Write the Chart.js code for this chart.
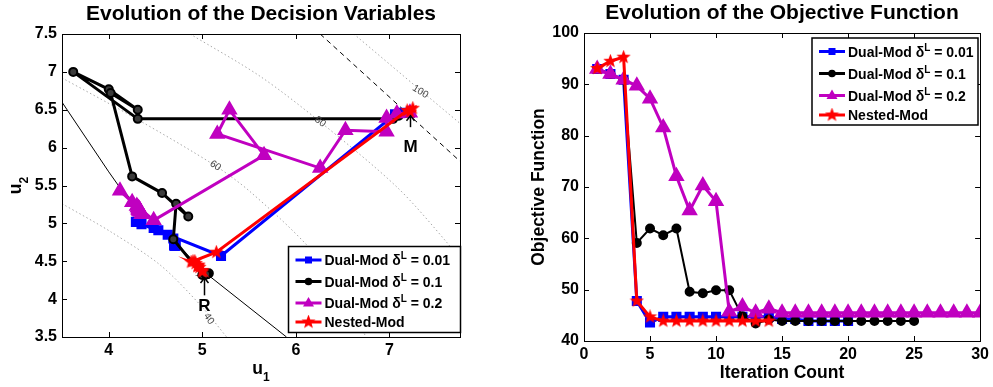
<!DOCTYPE html>
<html>
<head>
<meta charset="utf-8">
<script src="https://cdn.jsdelivr.net/npm/chart.js@4.4.1/dist/chart.umd.min.js"></script>
<style>
  html, body { margin: 0; padding: 0; background: #fff; }
  body { width: 993px; height: 387px; position: relative; overflow: hidden; }
  canvas { position: absolute; top: 0; }
  #chartU { left: 0; }
  #chartObj { left: 480px; }
</style>
</head>
<body>
<canvas id="chartU" width="470" height="387"></canvas>
<canvas id="chartObj" width="513" height="387"></canvas>
<script>
const seriesNames = ['Dual-Mod δ^L = 0.01', 'Dual-Mod δ^L = 0.1', 'Dual-Mod δ^L = 0.2', 'Nested-Mod'];
const seriesColors = ['#0000ff', '#000000', '#c000c0', '#ff0000'];
const seriesMarkers = ['rect', 'circle', 'triangle', 'star'];

// left panel: path of the decision variables (u1, u2)
const blueU1 = [7.22, 7.12, 7.06, 5.20, 4.29, 4.35, 4.48, 4.53, 4.63, 4.69, 4.71, 4.71, 4.70, 4.71, 4.71, 4.70, 4.71, 4.71, 4.70, 4.71];
const blueU2 = [6.46, 6.46, 6.44, 4.57, 5.02, 4.99, 4.94, 4.91, 4.85, 4.80, 4.72, 4.71, 4.72, 4.71, 4.72, 4.71, 4.71, 4.72, 4.71, 4.71];
const blackU1 = [7.22, 7.10, 7.04, 4.31, 3.62, 4.00, 4.31, 4.02, 4.25, 4.57, 4.85, 4.72, 4.69, 5.00, 5.07, 5.04, 5.05, 5.04, 5.04, 5.05, 5.04, 5.04, 5.05, 5.04, 5.04];
const blackU2 = [6.46, 6.42, 6.38, 6.38, 7.00, 6.77, 6.50, 6.72, 5.62, 5.40, 5.09, 5.26, 4.79, 4.32, 4.34, 4.33, 4.33, 4.33, 4.34, 4.33, 4.33, 4.33, 4.33, 4.33, 4.33];
const magentaU1 = [7.22, 7.08, 6.97, 6.97, 6.53, 6.26, 5.16, 5.29, 5.66, 4.48, 4.12, 4.25, 4.30, 4.33, 4.35, 4.32, 4.33, 4.31, 4.33, 4.34, 4.32, 4.33, 4.33, 4.32, 4.33, 4.33, 4.32, 4.33, 4.33, 4.33];
const magentaU2 = [6.46, 6.45, 6.39, 6.21, 6.23, 5.73, 6.18, 6.50, 5.90, 5.04, 5.43, 5.28, 5.23, 5.18, 5.12, 5.20, 5.17, 5.21, 5.17, 5.15, 5.19, 5.17, 5.18, 5.18, 5.17, 5.17, 5.18, 5.17, 5.17, 5.17];
const redU1 = [7.22, 7.25, 7.19, 5.15, 4.90, 4.95, 4.88, 4.93, 4.97, 4.92, 4.96, 5.00, 4.95, 5.00];
const redU2 = [6.47, 6.52, 6.49, 4.62, 4.50, 4.44, 4.49, 4.47, 4.42, 4.50, 4.45, 4.38, 4.43, 4.36];

// objective contours (dotted), constraint (solid) and bound (dashed)
const c40U1 = [3.5, 4.02, 4.55, 4.98, 5.26];
const c40U2 = [5.26, 4.89, 4.45, 3.92, 3.5];
const c60U1 = [3.5, 4.31, 5.14, 5.51, 6.12, 6.5, 6.75];
const c60U2 = [6.92, 6.37, 5.76, 5.42, 4.71, 4.1, 3.5];
const c80U1 = [4.87, 5.62, 6.26, 7.08, 7.62, 7.755];
const c80U2 = [7.5, 6.94, 6.34, 5.48, 4.74, 4.5];
const c100U1 = [6.62, 7.33, 7.755];
const c100U2 = [7.5, 6.76, 6.32];
const contourLabels = ['40', '60', '80', '100'];
const contourLabelU1 = [5.07, 5.14, 6.26, 7.33];
const contourLabelU2 = [3.74, 5.76, 6.34, 6.74];
const contourLabelAngle = [55, 34, 38, 32];
const constraintU1 = [3.5, 4.0, 4.12, 4.5, 5.05, 5.9];
const constraintU2 = [6.6, 5.68, 5.47, 5.0, 4.33, 3.5];
const boundU1 = [6.26, 7.755];
const boundU2 = [7.5, 5.82];
const leftXTicks = [4, 5, 6, 7];
const leftYTicks = [3.5, 4, 4.5, 5, 5.5, 6, 6.5, 7, 7.5];

// right panel: objective function per iteration
const iterations = [1, 2, 3, 4, 5, 6, 7, 8, 9, 10, 11, 12, 13, 14, 15, 16, 17, 18, 19, 20, 21, 22, 23, 24, 25, 26, 27, 28, 29, 30];
const blueObj = [93.0, 92.0, 90.9, 47.8, 43.6, 44.7, 44.7, 44.7, 44.7, 44.7, 44.7, 44.7, 44.7, 44.7, 44.3, 44.3, 43.9, 43.9, 43.9, 43.9];
const blackObj = [93.0, 92.0, 90.9, 59.1, 61.9, 60.6, 61.9, 49.6, 49.3, 49.9, 49.9, 44.8, 43.4, 44.2, 43.9, 43.9, 43.9, 43.9, 43.9, 43.9, 43.9, 43.9, 43.9, 43.9, 43.9];
const magentaObj = [93.0, 92.0, 90.9, 89.7, 87.2, 81.6, 72.1, 65.4, 70.3, 67.2, 45.7, 46.7, 45.5, 46.3, 45.5, 45.5, 45.5, 45.5, 45.5, 45.5, 45.5, 45.5, 45.5, 45.5, 45.5, 45.5, 45.5, 45.5, 45.5, 45.5];
const redObj = [93.1, 94.5, 95.3, 47.8, 44.7, 43.9, 43.9, 43.9, 43.9, 43.9, 43.9, 43.9, 43.9, 43.9];
const rightXTicks = [0, 5, 10, 15, 20, 25, 30];
const rightYTicks = [40, 50, 60, 70, 80, 90, 100];

const FONT = '"Liberation Sans", Arial, Helvetica, sans-serif';

function pts(xs, ys) {
    return xs.map((v, i) => ({ x: v, y: ys[i] }));
}

function starImage(size, color) {
    const c = document.createElement('canvas');
    c.width = c.height = size;
    const g = c.getContext('2d');
    const r = size / 2, ri = r * 0.42;
    g.beginPath();
    for (let i = 0; i < 10; i++) {
        const a = -Math.PI / 2 + i * Math.PI / 5;
        const rr = i % 2 ? ri : r;
        g.lineTo(r + rr * Math.cos(a), r + rr * Math.sin(a));
    }
    g.closePath();
    g.fillStyle = color;
    g.fill();
    return c;
}
const star = starImage(15, '#ff0000');

function drawMarker(ctx, style, x, y, color) {
    ctx.fillStyle = color;
    ctx.beginPath();
    if (style === 'rect') {
        ctx.rect(x - 3.5, y - 3.5, 7, 7);
    } else if (style === 'circle') {
        ctx.arc(x, y, 3.8, 0, Math.PI * 2);
    } else if (style === 'triangle') {
        ctx.moveTo(x, y - 6);
        ctx.lineTo(x + 5.5, y + 3.5);
        ctx.lineTo(x - 5.5, y + 3.5);
        ctx.closePath();
    } else if (style === 'star') {
        ctx.drawImage(star, x - star.width / 2, y - star.height / 2);
        return;
    }
    ctx.fill();
}

// text with ^X (superscript) or _X (subscript) parts
function richWidth(ctx, text, size) {
    const parts = text.split(/([\^_]\w)/);
    let w = 0;
    parts.forEach(p => {
        if (!p) return;
        if (p[0] === '^' || p[0] === '_') {
            ctx.font = 'bold ' + Math.round(size * 0.7) + 'px ' + FONT;
            w += ctx.measureText(p[1]).width;
        } else {
            ctx.font = 'bold ' + size + 'px ' + FONT;
            w += ctx.measureText(p).width;
        }
    });
    return w;
}

function drawRich(ctx, text, x, y, size) {
    const parts = text.split(/([\^_]\w)/);
    ctx.textBaseline = 'alphabetic';
    ctx.textAlign = 'left';
    parts.forEach(p => {
        if (!p) return;
        if (p[0] === '^' || p[0] === '_') {
            ctx.font = 'bold ' + Math.round(size * 0.7) + 'px ' + FONT;
            const dy = p[0] === '^' ? -size * 0.42 : size * 0.42;
            ctx.fillText(p[1], x, y + dy);
            x += ctx.measureText(p[1]).width;
        } else {
            ctx.font = 'bold ' + size + 'px ' + FONT;
            ctx.fillText(p, x, y);
            x += ctx.measureText(p).width;
        }
    });
}

function line(ctx, x1, y1, x2, y2) {
    ctx.beginPath();
    ctx.moveTo(x1, y1);
    ctx.lineTo(x2, y2);
    ctx.stroke();
}

function panelPlugin(cfg) {
    return {
        id: 'panel',
        afterDatasetsDraw(chart) {
            const { ctx, chartArea: a, scales: { x, y } } = chart;
            ctx.save();

            // contour labels
            (cfg.contourText || []).forEach(c => {
                ctx.save();
                ctx.translate(x.getPixelForValue(c.u1), y.getPixelForValue(c.u2));
                ctx.rotate(c.angle * Math.PI / 180);
                ctx.font = '10px ' + FONT;
                ctx.fillStyle = '#444';
                ctx.textAlign = 'center';
                ctx.textBaseline = 'middle';
                ctx.fillText(c.text, 0, 0);
                ctx.restore();
            });

            // arrows with letters
            (cfg.arrows || []).forEach(ar => {
                const px = Math.round(x.getPixelForValue(ar.u1)) + 0.5;
                const y0 = y.getPixelForValue(ar.from), y1 = y.getPixelForValue(ar.to);
                ctx.strokeStyle = '#000';
                ctx.lineWidth = 1.5;
                line(ctx, px, y0, px, y1);
                ctx.beginPath();
                ctx.moveTo(px - 4, y1 + 5);
                ctx.lineTo(px, y1);
                ctx.lineTo(px + 4, y1 + 5);
                ctx.stroke();
                ctx.fillStyle = '#000';
                ctx.font = 'bold 17px ' + FONT;
                ctx.textAlign = 'center';
                ctx.textBaseline = 'middle';
                ctx.fillText(ar.text, px, y.getPixelForValue(ar.textAt));
            });

            // box and inward ticks on all sides
            ctx.strokeStyle = '#000';
            ctx.lineWidth = 1;
            ctx.strokeRect(Math.round(a.left) + 0.5, Math.round(a.top) + 0.5,
                Math.round(a.right - a.left), Math.round(a.bottom - a.top));
            x.ticks.forEach(t => {
                const p = Math.round(x.getPixelForValue(t.value)) + 0.5;
                line(ctx, p, a.bottom, p, a.bottom - 5);
                line(ctx, p, a.top, p, a.top + 5);
            });
            y.ticks.forEach(t => {
                const p = Math.round(y.getPixelForValue(t.value)) + 0.5;
                line(ctx, a.left, p, a.left + 5, p);
                line(ctx, a.right, p, a.right - 5, p);
            });

            // legend
            const L = cfg.legend;
            ctx.fillStyle = '#fff';
            ctx.fillRect(L.x, L.y, L.w, L.h);
            ctx.strokeStyle = '#000';
            ctx.lineWidth = 1.5;
            ctx.strokeRect(L.x, L.y, L.w, L.h);
            seriesNames.forEach((name, i) => {
                const ly = L.rows[i];
                ctx.strokeStyle = seriesColors[i];
                ctx.lineWidth = 3;
                line(ctx, L.x + 7, ly, L.x + 33, ly);
                drawMarker(ctx, seriesMarkers[i], L.x + 20, ly, seriesColors[i]);
                ctx.fillStyle = '#000';
                drawRich(ctx, name, L.x + 36, ly + 5, 14);
            });

            // title and axis titles
            ctx.fillStyle = '#000';
            ctx.font = 'bold 21px ' + FONT;
            ctx.textAlign = 'center';
            ctx.textBaseline = 'middle';
            ctx.fillText(cfg.title, cfg.titleX, cfg.titleY);

            const xw = richWidth(ctx, cfg.xTitle, 17.5);
            ctx.fillStyle = '#000';
            drawRich(ctx, cfg.xTitle, (a.left + a.right) / 2 - xw / 2, cfg.xTitleY, 17.5);

            ctx.save();
            ctx.translate(cfg.yTitleX, (a.top + a.bottom) / 2);
            ctx.rotate(-Math.PI / 2);
            const yw = richWidth(ctx, cfg.yTitle, 17.5);
            ctx.fillStyle = '#000';
            drawRich(ctx, cfg.yTitle, -yw / 2, 0, 17.5);
            ctx.restore();

            ctx.restore();
        }
    };
}

function axis(min, max, ticks, isX, size) {
    return {
        type: 'linear',
        min: min,
        max: max,
        grid: { display: false, drawTicks: false },
        border: { display: false },
        afterBuildTicks: s => { s.ticks = ticks.map(v => ({ value: v })); },
        afterFit: s => { if (isX) s.height = size; else s.width = size; },
        ticks: {
            padding: isX ? 4 : 5,
            color: '#000',
            font: { family: FONT, size: 16, weight: 'bold' },
            callback: v => String(v),
            maxRotation: 0,
            autoSkip: false
        }
    };
}

const common = {
    animation: false,
    responsive: false,
    events: [],
    plugins: { legend: { display: false }, tooltip: { enabled: false } }
};

function guide(xs, ys, color, dash) {
    return {
        data: pts(xs, ys), showLine: true, borderColor: color, borderWidth: 1,
        borderDash: dash, pointRadius: 0, tension: dash.length && dash[0] < 2 ? 0.3 : 0, order: 10
    };
}

new Chart(document.getElementById('chartU'), {
    type: 'scatter',
    data: {
        datasets: [
            guide(c40U1, c40U2, '#a8a8a8', [1.5, 2.5]),
            guide(c60U1, c60U2, '#a8a8a8', [1.5, 2.5]),
            guide(c80U1, c80U2, '#a8a8a8', [1.5, 2.5]),
            guide(c100U1, c100U2, '#a8a8a8', [1.5, 2.5]),
            guide(constraintU1, constraintU2, '#000', []),
            guide(boundU1, boundU2, '#000', [5, 4]),
            { label: seriesNames[0], data: pts(blueU1, blueU2), showLine: true, borderColor: seriesColors[0],
              backgroundColor: seriesColors[0], borderWidth: 3, pointStyle: 'rect', pointRadius: 5, order: 3 },
            { label: seriesNames[1], data: pts(blackU1, blackU2), showLine: true, borderColor: seriesColors[1],
              backgroundColor: '#3a3a3a', pointBorderColor: '#000', borderWidth: 3, pointBorderWidth: 2,
              pointStyle: 'circle', pointRadius: 4, order: 2 },
            { label: seriesNames[2], data: pts(magentaU1, magentaU2), showLine: true, borderColor: seriesColors[2],
              backgroundColor: seriesColors[2], borderWidth: 3, pointStyle: 'triangle', pointRadius: 6.5, order: 1 },
            { label: seriesNames[3], data: pts(redU1, redU2), showLine: true, borderColor: seriesColors[3],
              backgroundColor: seriesColors[3], borderWidth: 3, pointStyle: star, order: 0 }
        ]
    },
    options: Object.assign({}, common, {
        layout: { padding: { left: 0, top: 34, right: 10, bottom: 0 } },
        scales: {
            x: axis(3.5, 7.755, leftXTicks, true, 50),
            y: axis(3.5, 7.5, leftYTicks, false, 62)
        }
    }),
    plugins: [panelPlugin({
        title: 'Evolution of the Decision Variables', titleX: 261, titleY: 14,
        xTitle: 'u_1', xTitleY: 374, yTitle: 'u_2', yTitleX: 21,
        contourText: contourLabels.map((t, i) => ({ text: t, u1: contourLabelU1[i], u2: contourLabelU2[i], angle: contourLabelAngle[i] })),
        arrows: [
            { text: 'R', u1: 5.02, from: 4.05, to: 4.28, textAt: 3.9 },
            { text: 'M', u1: 7.22, from: 6.27, to: 6.42, textAt: 6.01 }
        ],
        legend: { x: 288.5, y: 246.5, w: 172, h: 86, rows: [260, 281.5, 303, 322] }
    })]
});

new Chart(document.getElementById('chartObj'), {
    type: 'scatter',
    data: {
        datasets: [
            { label: seriesNames[0], data: pts(iterations.slice(0, blueObj.length), blueObj), showLine: true,
              borderColor: seriesColors[0], backgroundColor: seriesColors[0], borderWidth: 3,
              pointStyle: 'rect', pointRadius: 5, order: 3 },
            { label: seriesNames[1], data: pts(iterations.slice(0, blackObj.length), blackObj), showLine: true,
              borderColor: seriesColors[1], backgroundColor: seriesColors[1], borderWidth: 2,
              pointStyle: 'circle', pointRadius: 4, order: 2 },
            { label: seriesNames[2], data: pts(iterations.slice(0, magentaObj.length), magentaObj), showLine: true,
              borderColor: seriesColors[2], backgroundColor: seriesColors[2], borderWidth: 3,
              pointStyle: 'triangle', pointRadius: 6.5, order: 1 },
            { label: seriesNames[3], data: pts(iterations.slice(0, redObj.length), redObj), showLine: true,
              borderColor: seriesColors[3], backgroundColor: seriesColors[3], borderWidth: 3,
              pointStyle: star, order: 0 }
        ]
    },
    options: Object.assign({}, common, {
        layout: { padding: { left: 0, top: 33, right: 11, bottom: 0 } },
        scales: {
            x: axis(0, 30, rightXTicks, true, 46),
            y: axis(40, 100, rightYTicks, false, 104)
        }
    }),
    plugins: [panelPlugin({
        title: 'Evolution of the Objective Function', titleX: 302, titleY: 13,
        xTitle: 'Iteration Count', xTitleY: 378, yTitle: 'Objective Function', yTitleX: 64,
        legend: { x: 332, y: 38, w: 166, h: 87, rows: [51.5, 73.5, 95.5, 115] }
    })]
});
</script>
</body>
</html>
